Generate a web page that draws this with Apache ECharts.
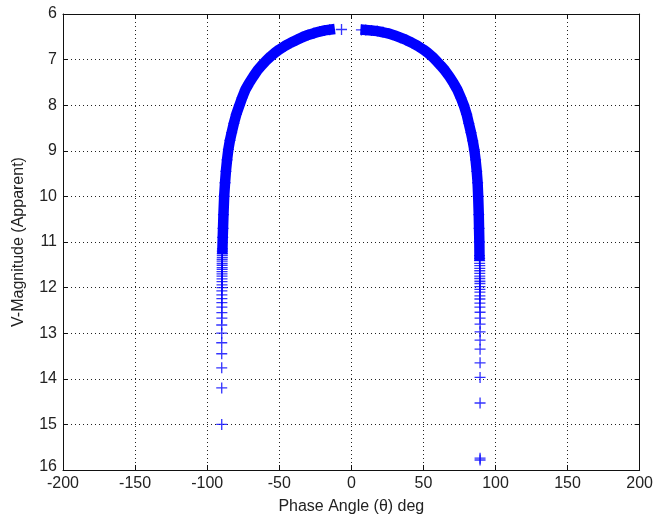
<!DOCTYPE html>
<html>
<head>
<meta charset="utf-8">
<script src="https://cdn.jsdelivr.net/npm/echarts@6/dist/echarts.min.js"></script>
<style>html,body{margin:0;padding:0;background:#fff}#c{width:656px;height:523px}</style>
</head>
<body>
<div id="c"></div>
<script>
// x tick labels and y tick labels
const xTicks = [-200, -150, -100, -50, 0, 50, 100, 150, 200];
const yTicks = [6, 7, 8, 9, 10, 11, 12, 13, 14, 15, 16];

// dense band, left branch: [phase angle deg, V magnitude]
const leftBand = [
  [-89.4, 11.15], [-89.2, 10.9], [-89.0, 10.7], [-88.7, 10.4], [-88.2, 10.0],
  [-87.6, 9.7], [-87.0, 9.45], [-86.2, 9.2], [-85.3, 8.97], [-84.2, 8.77],
  [-83.0, 8.6], [-81.5, 8.4], [-79.8, 8.2], [-77.6, 8.0], [-75.8, 7.84],
  [-73.5, 7.66], [-71, 7.52], [-68, 7.37], [-65, 7.23], [-62, 7.12],
  [-59, 7.02], [-56, 6.93], [-53, 6.85], [-50, 6.78], [-46, 6.7],
  [-42, 6.63], [-38, 6.57], [-34, 6.51], [-30, 6.46], [-26, 6.42],
  [-22, 6.385], [-18.5, 6.36], [-15, 6.345]
];
// dense band, right branch
const rightBand = [
  [10, 6.35], [14, 6.36], [18, 6.375], [22, 6.4], [26, 6.43],
  [30, 6.47], [34, 6.52], [38, 6.57], [42, 6.63], [46, 6.7],
  [50, 6.78], [53, 6.85], [56, 6.93], [59, 7.03], [62, 7.13],
  [65, 7.24], [68, 7.37], [71, 7.52], [73.5, 7.66], [76, 7.84],
  [78, 8.0], [80, 8.2], [81.5, 8.4], [83, 8.6], [84.2, 8.78],
  [85.3, 8.98], [86.2, 9.2], [87, 9.45], [87.6, 9.7], [88.0, 10.0],
  [88.4, 10.4], [88.6, 10.7], [88.8, 11.0], [88.9, 11.3]
];
// isolated points near zero phase
const topPoints = [[-6.8, 6.34], [7.0, 6.35]];
// sparse tail, left branch
const leftTail = [
  [-89.5, 11.2], [-89.5, 11.25], [-89.5, 11.29], [-89.5, 11.34], [-89.6, 11.38],
  [-89.6, 11.42], [-89.6, 11.47], [-89.6, 11.51], [-89.6, 11.56], [-89.6, 11.6],
  [-89.7, 11.65], [-89.7, 11.7], [-89.7, 11.75], [-89.7, 11.81], [-89.7, 11.87],
  [-89.7, 11.94], [-89.7, 12.0], [-89.8, 12.07], [-89.8, 12.16], [-89.8, 12.24],
  [-89.8, 12.33], [-89.8, 12.43], [-89.8, 12.55], [-89.8, 12.67], [-89.9, 12.82],
  [-89.9, 13.0], [-89.9, 13.21], [-89.9, 13.45], [-89.9, 13.76], [-89.9, 14.2],
  [-89.9, 15.0]
];
// sparse tail, right branch
const rightTail = [
  [89.0, 11.36], [89.0, 11.41], [89.0, 11.47], [89.1, 11.52], [89.1, 11.58],
  [89.1, 11.63], [89.1, 11.69], [89.1, 11.75], [89.1, 11.8], [89.2, 11.86],
  [89.2, 11.91], [89.2, 11.98], [89.2, 12.04], [89.2, 12.1], [89.2, 12.18],
  [89.2, 12.25], [89.2, 12.34], [89.2, 12.43], [89.3, 12.54], [89.3, 12.67],
  [89.3, 12.8], [89.3, 12.97], [89.3, 13.15], [89.3, 13.35], [89.3, 13.65],
  [89.3, 13.97], [89.3, 14.53], [89.3, 15.74], [89.3, 15.78]
];

const FONT = 'Liberation Sans, Arial, sans-serif';
const FS = 16;
const TXT = '#222';
const BLUE = '#0000ff';
const PLUS = 'path://M4.4,0h1.2v4.4h4.4v1.2h-4.4v4.4h-1.2v-4.4h-4.4v-1.2h4.4z';
const axisCol = '#111';

const chart = echarts.init(document.getElementById('c'), null, {renderer: 'canvas'});
const xBase = {
  type: 'value', min: xTicks[0], max: xTicks[xTicks.length - 1],
  interval: xTicks[1] - xTicks[0]
};
const yBase = {
  type: 'value', inverse: true, min: yTicks[0], max: yTicks[yTicks.length - 1],
  interval: yTicks[1] - yTicks[0]
};
chart.setOption({
  animation: false,
  backgroundColor: '#fff',
  grid: {left: 63, right: 14, top: 14, bottom: 53, containLabel: false},
  xAxis: [
    Object.assign({}, xBase, {
      position: 'bottom',
      name: 'Phase Angle (θ) deg', nameLocation: 'middle', nameGap: 29,
      nameTextStyle: {fontFamily: FONT, fontSize: FS, color: TXT},
      axisLine: {show: true, lineStyle: {color: axisCol, width: 1}},
      axisTick: {show: true, inside: true, length: 5, lineStyle: {color: axisCol}},
      axisLabel: {fontFamily: FONT, fontSize: FS, color: TXT, margin: 6},
      splitLine: {show: true, lineStyle: {color: '#222', width: 1, type: [1, 3]}}
    }),
    Object.assign({}, xBase, {
      position: 'top',
      axisLine: {show: true, onZero: false, lineStyle: {color: axisCol, width: 1}},
      axisTick: {show: true, inside: true, length: 5, lineStyle: {color: axisCol}},
      axisLabel: {show: false},
      splitLine: {show: false}
    })
  ],
  yAxis: [
    Object.assign({}, yBase, {
      position: 'left',
      name: 'V-Magnitude (Apparent)', nameLocation: 'middle', nameGap: 36,
      nameTextStyle: {fontFamily: FONT, fontSize: FS, color: TXT},
      axisLine: {show: true, onZero: false, lineStyle: {color: axisCol, width: 1}},
      axisTick: {show: true, inside: true, length: 5, lineStyle: {color: axisCol}},
      axisLabel: {
        fontFamily: FONT, fontSize: FS, color: TXT, margin: 6,
        formatter: function (v) { return v === yTicks[yTicks.length - 1] ? '{r|' + v + '}' : String(v); },
        rich: {r: {fontFamily: FONT, fontSize: FS, color: TXT, padding: [0, 0, 7, 0]}}
      },
      splitLine: {show: true, lineStyle: {color: '#222', width: 1, type: [1, 3]}}
    }),
    Object.assign({}, yBase, {
      position: 'right',
      axisLine: {show: true, onZero: false, lineStyle: {color: axisCol, width: 1}},
      axisTick: {show: true, inside: true, length: 5, lineStyle: {color: axisCol}},
      axisLabel: {show: false},
      splitLine: {show: false}
    })
  ],
  series: [
    {
      type: 'line', data: leftBand, showSymbol: false, symbol: 'none', silent: true,
      lineStyle: {color: BLUE, width: 10.5, cap: 'square', join: 'round'}
    },
    {
      type: 'line', data: rightBand, showSymbol: false, symbol: 'none', silent: true,
      lineStyle: {color: BLUE, width: 10.5, cap: 'square', join: 'round'}
    },
    {
      type: 'scatter', data: leftBand.concat(rightBand, topPoints, leftTail, rightTail),
      symbol: PLUS, symbolSize: 11, itemStyle: {color: BLUE}, silent: true
    }
  ]
});
</script>
</body>
</html>
